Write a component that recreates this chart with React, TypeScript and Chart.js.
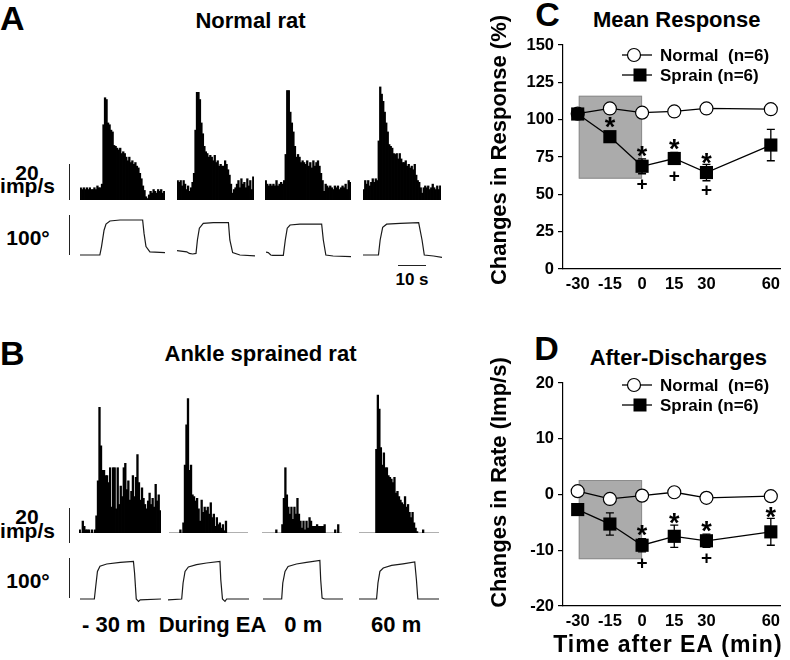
import React, { useEffect, useRef } from "react";
import { Chart, registerables } from "chart.js";
Chart.register(...registerables);

const FONT = "'Liberation Sans', Arial, Helvetica, sans-serif";

// ---------- Panel A: Normal rat – peristimulus histograms (imp/s per bin)
const histNormal1 = [7, 6, 7, 6, 7, 6, 7, 6, 6, 7, 6, 8, 7, 7, 9, 42, 57, 56, 43, 42, 39, 38, 30.5, 30, 29, 28, 29, 26, 27, 26, 24, 22, 24, 21, 22, 20, 21, 19, 18, 15, 12, 8, 5.5, 2, 1, 3, 5, 4, 6, 5, 4, 6, 5, 6, 4, 5];
const histNormal2 = [11, 10, 11, 8, 11, 9, 6, 8, 5, 7, 10, 15, 39, 60, 60, 56, 43, 37, 30, 27, 26, 24, 25, 24, 22, 25, 21, 22, 19, 20, 19, 19, 22, 20, 17, 14, 9, 4, 6, 7, 9, 11, 7, 12, 9, 10, 7, 12, 8, 11, 6, 13];
const histNormal3 = [11, 9, 8, 9, 8, 9, 8, 11, 8, 9, 10, 9, 11, 25.5, 61, 61, 49, 43, 38, 30, 24, 25.5, 24, 21, 22, 21, 20, 22, 19, 21, 18, 22, 19, 21, 22, 19, 15, 11, 5, 9, 8, 7, 8, 7, 6, 8, 7, 8, 6, 7, 8, 7, 9, 6, 11, 10];
const histNormal4 = [6, 11, 9, 11, 8, 10, 12, 10, 12, 11, 33, 63, 59, 55, 49, 43, 38, 31, 30, 29, 26, 25.5, 26, 23, 26, 23, 21, 21, 22, 19, 20, 18, 19, 17, 20, 14, 11, 10, 7, 4, 7, 8, 7, 8, 6, 7, 9, 7, 6, 8, 6, 8];

// ---------- Panel B: Ankle sprained rat – histograms (imp/s per bin)
const histSprain1 = [2, 0, 7, 4, 2, 2, 2, 0, 2, 0, 2, 10, 30, 72, 50, 36, 36, 33, 33, 29, 37.5, 15, 37.5, 37.5, 14, 37.5, 16.5, 27, 21, 37.5, 40, 25, 30, 19, 24, 33, 21, 32, 45, 29, 19, 26, 20, 16.5, 14, 18.5, 23, 16.5, 20, 15, 28, 18.5, 22, 13];
const histSprain2 = [0, 0, 0, 0, 0, 0, 0, 2, 0, 6, 39, 62, 77, 36, 39, 22, 21, 18.5, 20, 14, 7, 19, 12, 15, 13, 15, 11, 17.5, 9, 11, 4, 9, 5, 6, 3, 5, 1.5, 7, 0, 0, 0, 0, 0, 0, 0, 0, 0, 0, 0, 0, 0, 0];
const histSprain3 = [0, 0, 0, 0, 0, 0, 0, 0, 0, 2, 0, 0, 0, 5, 20, 37.5, 22, 15, 11, 15, 8, 15, 11, 20, 11, 7, 3, 7, 2, 7, 3, 9, 7, 4, 4, 4, 5, 4, 4, 4, 4, 5, 0, 0, 0, 0, 0, 0, 2, 0, 5, 0, 0];
const histSprain4 = [0, 0, 0, 0, 0, 0, 0, 0, 0, 0, 0, 48, 79, 71, 49, 39, 46, 37.5, 37.5, 33, 32, 31, 29, 32, 23, 24, 21, 19, 17.5, 16.5, 21, 15, 16.5, 12, 9, 12, 6, 3, 1, 0, 0, 0, 2, 0, 0, 0, 0, 0, 0, 0, 0, 0, 0];

// ---------- Joint angle traces: time (s) and angle (deg)
const traceA1T = [0, 7.1, 7.7, 8.6, 9.3, 10.7, 14.3, 22.4, 22.9, 23.6, 25, 30.4];
const traceA1D = [0, 0, 21, 62, 77.5, 85, 87.5, 87.5, 54, 21, 8, 6];
const traceA2T = [0, 3.5, 4.4, 5.6, 6.8, 7.3, 8, 9.4, 13, 18.4, 18.9, 19.9, 22.5, 27.9];
const traceA2D = [11, 8, 4, 2.5, 4, 37.5, 67, 79, 81, 81, 37.5, 6, 0, -2];
const traceA3T = [0, 0.8, 1.7, 2.4, 6.2, 6.9, 7.6, 8.6, 12.1, 19.9, 20.5, 21.4, 24, 30.4];
const traceA3D = [7, 6, 0, -1, -1, 37.5, 67, 75, 77, 77.5, 37.5, 0, -2.5, -4];
const traceA4T = [0, 5.5, 6.1, 7, 8.4, 13.2, 19.8, 21, 21.8, 25.1, 28.1];
const traceA4D = [0, 0, 37.5, 69, 77, 79, 81, 37.5, 0, -2.5, -6];
const traceB1T = [0, 5.1, 5.6, 6.2, 7.1, 9.5, 14.3, 19, 19.4, 20, 20.8, 21.4, 28.8];
const traceB1D = [0, 0, 32, 69, 82, 87.5, 91.5, 94, 65, 0, -6, -2, 0];
const traceB2T = [0, 4.9, 5.4, 6.1, 7.3, 10.2, 13.8, 18.6, 18.9, 19.5, 20.4, 21, 29.0];
const traceB2D = [-2, 0, 40, 69, 80, 86, 90, 94, 48, 0, -6, 0, 0];
const traceB3T = [0, 6.7, 7.1, 7.9, 9, 12, 15.6, 20.4, 20.7, 21.2, 22.1, 28.7];
const traceB3D = [0, 0, 40, 69, 81.5, 87.5, 91.5, 96.5, 48, 2.5, 0, 0];
const traceB4T = [0, 6.3, 6.8, 7.5, 8.7, 11.7, 15.8, 20, 20.6, 21.1, 28.7];
const traceB4D = [0, 0, 40, 69, 77.5, 84, 88, 92.5, 48, 0, 0];

const bLabels = ["- 30 m", "During EA", "0 m", "60 m"];

// ---------- Panels C / D
const timePoints = [-30, -15, 0, 15, 30, 60];
const xRange = [-36.85, 64.6];
const eaWindow = [-29.5, 0];

const respNormal = [104, 107.5, 104.7, 105.5, 107.5, 107];
const respSprain = [103.8, 88.6, 68.8, 74, 64.6, 83];
const respSprainErr = [2, 3, 5, 4, 5.5, 10.5];
const respStar = [false, true, true, true, true, false];
const respPlus = [false, false, true, true, true, false];
const respShade = [60.5, 116];

const rateNormal = [0.6, -0.8, -0.2, 0.4, -0.6, -0.3];
const rateSprain = [-2.7, -5.3, -9.1, -7.5, -8.3, -6.7];
const rateSprainErr = [0.8, 2, 1.2, 2, 1.2, 2.4];
const rateStar = [false, false, true, true, true, true];
const ratePlus = [false, false, true, false, true, false];
const rateShade = [-11.6, 2.6];

const seriesLabels = ["Normal  (n=6)", "Sprain (n=6)"];

// ---------- scales (px per unit)
const A_IMP_PX = 1.8;
const B_IMP_PX = 1.75;
const DEG_PX = 0.4;
const SEC_PX = 2.8;

function ChartCanvas({ left, top, width, height, make }: any) {
  const ref = useRef<HTMLCanvasElement>(null);
  useEffect(() => {
    const chart = new Chart(ref.current as HTMLCanvasElement, make());
    return () => chart.destroy();
  }, []);
  return (
    <canvas
      ref={ref}
      width={width}
      height={height}
      style={{ position: "absolute", left, top, width, height }}
    />
  );
}

const baselinePlugin = {
  id: "baseline",
  beforeDatasetsDraw(chart: any) {
    const { ctx, chartArea } = chart;
    const y = chart.scales.y.getPixelForValue(0);
    ctx.save();
    ctx.strokeStyle = "#b0b0b0";
    ctx.lineWidth = 1;
    ctx.beginPath();
    ctx.moveTo(chartArea.left, y - 0.5);
    ctx.lineTo(chartArea.right, y - 0.5);
    ctx.stroke();
    ctx.restore();
  },
};

function histConfig(values: number[], max: number, baseline: boolean, width: number) {
  return {
    type: "bar",
    data: {
      labels: values.map((_, i) => String(i)),
      datasets: [
        {
          data: values,
          backgroundColor: "#000",
          borderWidth: 0,
          barThickness: width / values.length + 0.8,
          inflateAmount: 0,
        },
      ],
    },
    options: {
      responsive: false,
      animation: false,
      events: [],
      layout: { padding: 0 },
      plugins: { legend: { display: false }, tooltip: { enabled: false } },
      scales: {
        x: { display: false },
        y: { display: false, min: 0, max },
      },
    },
    plugins: baseline ? [baselinePlugin] : [],
  };
}

function traceConfig(t: number[], d: number[]) {
  return {
    type: "line",
    data: {
      datasets: [
        {
          data: t.map((x, i) => ({ x, y: d[i] })),
          borderColor: "#1a1a1a",
          borderWidth: 1.2,
          pointRadius: 0,
          tension: 0,
        },
      ],
    },
    options: {
      responsive: false,
      animation: false,
      events: [],
      layout: { padding: 0 },
      plugins: { legend: { display: false }, tooltip: { enabled: false } },
      scales: {
        x: { type: "linear", display: false, min: t[0], max: t[t.length - 1] },
        y: { display: false, min: -10, max: 100 },
      },
    },
  };
}

function mainConfig(p: any) {
  const xy = (arr: number[]) => timePoints.map((t, i) => ({ x: t, y: arr[i] }));
  const shade = {
    id: "shade",
    beforeDatasetsDraw(chart: any) {
      const { ctx } = chart;
      const { x, y } = chart.scales;
      const x0 = x.getPixelForValue(eaWindow[0]);
      const x1 = x.getPixelForValue(eaWindow[1]);
      const y0 = y.getPixelForValue(p.shade[1]);
      const y1 = y.getPixelForValue(p.shade[0]);
      ctx.save();
      ctx.fillStyle = "#ababab";
      ctx.fillRect(x0, y0, x1 - x0, y1 - y0);
      ctx.strokeStyle = "#8c8c8c";
      ctx.lineWidth = 1;
      ctx.strokeRect(x0 + 0.5, y0 + 0.5, x1 - x0 - 1, y1 - y0 - 1);
      ctx.restore();
    },
  };
  const errorBars = {
    id: "errorBars",
    beforeDatasetsDraw(chart: any) {
      const { ctx } = chart;
      const { x, y } = chart.scales;
      ctx.save();
      ctx.strokeStyle = "#000";
      ctx.lineWidth = 1.3;
      timePoints.forEach((t, i) => {
        const px = x.getPixelForValue(t);
        const top = y.getPixelForValue(p.sprain[i] + p.err[i]);
        const bot = y.getPixelForValue(p.sprain[i] - p.err[i]);
        ctx.beginPath();
        ctx.moveTo(px, top);
        ctx.lineTo(px, bot);
        ctx.moveTo(px - 4, top);
        ctx.lineTo(px + 4, top);
        ctx.moveTo(px - 4, bot);
        ctx.lineTo(px + 4, bot);
        ctx.stroke();
      });
      ctx.restore();
    },
  };
  const marks = {
    id: "marks",
    afterDatasetsDraw(chart: any) {
      const { ctx } = chart;
      const { x, y } = chart.scales;
      ctx.save();
      ctx.fillStyle = "#000";
      ctx.textAlign = "center";
      ctx.textBaseline = "alphabetic";
      timePoints.forEach((t, i) => {
        const px = x.getPixelForValue(t);
        const cy = y.getPixelForValue(p.sprain[i]);
        const top = y.getPixelForValue(p.sprain[i] + p.err[i]);
        const bot = y.getPixelForValue(p.sprain[i] - p.err[i]);
        if (p.star[i]) {
          const sy = Math.min(cy - 17, top - 9);
          ctx.font = `bold 27px ${FONT}`;
          ctx.fillText("*", px, sy + 0.6 * 27);
        }
        if (p.plus[i]) {
          const py = Math.max(cy + 17, bot + 9);
          ctx.font = `bold 19px ${FONT}`;
          ctx.fillText("+", px, py + 0.33 * 19);
        }
      });
      ctx.restore();
    },
  };
  const legendDraw = {
    id: "legendDraw",
    afterDraw(chart: any) {
      const { ctx, chartArea } = chart;
      const l = chartArea.left;
      ctx.save();
      chart.data.datasets.forEach((ds: any, i: number) => {
        const ry = chartArea.top + p.legendTop + i * 20;
        ctx.strokeStyle = "#000";
        ctx.lineWidth = 1.3;
        ctx.beginPath();
        ctx.moveTo(l + 59, ry);
        ctx.lineTo(l + 89, ry);
        ctx.stroke();
        if (i === 0) {
          ctx.beginPath();
          ctx.arc(l + 71, ry, 6.5, 0, Math.PI * 2);
          ctx.fillStyle = "#fff";
          ctx.fill();
          ctx.lineWidth = 1.2;
          ctx.stroke();
        } else {
          ctx.fillStyle = "#000";
          ctx.fillRect(l + 77 - 6.5, ry - 6.5, 13, 13);
        }
        ctx.fillStyle = "#000";
        ctx.font = `bold 17px ${FONT}`;
        ctx.textAlign = "left";
        ctx.textBaseline = "middle";
        ctx.fillText(ds.label, l + 97, ry + 1);
      });
      ctx.restore();
    },
  };
  const titles = {
    id: "titles",
    afterDraw(chart: any) {
      const { ctx, chartArea } = chart;
      ctx.save();
      ctx.fillStyle = "#000";
      ctx.font = `bold 22px ${FONT}`;
      ctx.textAlign = "center";
      ctx.textBaseline = "middle";
      ctx.translate(chartArea.left - 63, (chartArea.top + chartArea.bottom) / 2 + p.yTitleDy);
      ctx.rotate(-Math.PI / 2);
      ctx.fillText(p.yTitle, 0, 0);
      ctx.restore();
      if (p.xTitle) {
        ctx.save();
        ctx.fillStyle = "#000";
        ctx.font = `bold 23px ${FONT}`;
        try {
          (ctx as any).letterSpacing = "1px";
        } catch (e) {}
        ctx.textAlign = "center";
        ctx.textBaseline = "middle";
        ctx.fillText(p.xTitle, (chartArea.left + chartArea.right) / 2 - 4, chartArea.bottom + 40);
        ctx.restore();
      }
    },
  };
  const tickFont = { family: FONT, size: 16.5, weight: "bold" };
  return {
    type: "line",
    data: {
      datasets: [
        {
          label: seriesLabels[0],
          data: xy(p.normal),
          borderColor: "#000",
          borderWidth: 1.3,
          pointStyle: "circle",
          pointRadius: 6.5,
          pointBackgroundColor: "#fff",
          pointBorderColor: "#000",
          pointBorderWidth: 1.2,
          tension: 0,
          order: 2,
          clip: false,
        },
        {
          label: seriesLabels[1],
          data: xy(p.sprain),
          borderColor: "#000",
          borderWidth: 1.3,
          pointStyle: "rect",
          pointRadius: 9.3,
          pointBackgroundColor: "#000",
          pointBorderColor: "#000",
          pointBorderWidth: 0,
          tension: 0,
          order: 1,
          clip: false,
        },
      ],
    },
    options: {
      responsive: false,
      animation: false,
      events: [],
      layout: { padding: { top: p.padTop, right: 5, left: 0, bottom: 0 } },
      plugins: { legend: { display: false }, tooltip: { enabled: false } },
      scales: {
        x: {
          type: "linear",
          min: xRange[0],
          max: xRange[1],
          afterBuildTicks: (s: any) => {
            s.ticks = timePoints.map((v) => ({ value: v }));
          },
          afterFit: (s: any) => {
            s.height = p.xAxisH;
          },
          grid: { display: true, drawOnChartArea: false, drawTicks: false },
          border: { color: "#000", width: 1.2 },
          ticks: { color: "#000", font: tickFont, padding: 6, maxRotation: 0, autoSkip: false },
        },
        y: {
          min: p.yMin,
          max: p.yMax,
          afterFit: (s: any) => {
            s.width = 83;
          },
          grid: { drawOnChartArea: false, drawTicks: true, tickLength: 5, color: "#000", lineWidth: 1.2 },
          border: { color: "#000", width: 1.2 },
          ticks: { color: "#000", font: tickFont, padding: 4, stepSize: p.yStep },
        },
      },
    },
    plugins: [shade, errorBars, marks, legendDraw, titles],
  };
}

function Label({ x, y, text, size = 22, center = true }: any) {
  return (
    <div
      style={{
        position: "absolute",
        left: x,
        top: y - size / 2,
        fontFamily: FONT,
        fontWeight: "bold",
        fontSize: size,
        lineHeight: `${size}px`,
        whiteSpace: "pre",
        transform: center ? "translateX(-50%)" : undefined,
        color: "#000",
      }}
    >
      {text}
    </div>
  );
}

function Bar({ left, top, width, height }: any) {
  return <div style={{ position: "absolute", left, top, width, height, background: "#222" }} />;
}

const colsA = [
  { hist: histNormal1, hl: 80, hw: 85, t: traceA1T, d: traceA1D, tl: 80, tw: 85 },
  { hist: histNormal2, hl: 177, hw: 77, t: traceA2T, d: traceA2D, tl: 177, tw: 78 },
  { hist: histNormal3, hl: 265, hw: 86, t: traceA3T, d: traceA3D, tl: 266, tw: 85 },
  { hist: histNormal4, hl: 363, hw: 78, t: traceA4T, d: traceA4D, tl: 363, tw: 79 },
];
const colsB = [
  { hist: histSprain1, hl: 79, hw: 82, t: traceB1T, d: traceB1D, tl: 80, tw: 81 },
  { hist: histSprain2, hl: 169, hw: 79, t: traceB2T, d: traceB2D, tl: 168, tw: 81 },
  { hist: histSprain3, hl: 262, hw: 80, t: traceB3T, d: traceB3D, tl: 263, tw: 80 },
  { hist: histSprain4, hl: 359, hw: 80, t: traceB4T, d: traceB4D, tl: 359, tw: 80 },
];
const bLabelX = [113.8, 212.5, 303.3, 396.2];

export default function App() {
  const A_MAX = 65;
  const B_MAX = 80;
  const aBase = 200;
  const bBase = 533;
  const aTraceBase = 255;
  const bTraceBase = 599;
  return (
    <div
      style={{
        position: "absolute",
        left: 0,
        top: 0,
        width: 790,
        height: 660,
        background: "#fff",
        overflow: "hidden",
      }}
    >
      {/* Panel A */}
      <Label x={0} y={18.3} text="A" size={34} center={false} />
      <Label x={250.5} y={20.7} text="Normal rat" />
      <Label x={27} y={172.5} text="20" size={21} />
      <Label x={27.5} y={185.8} text="imp/s" size={21} />
      <Label x={28} y={237.5} text="100°" size={21} />
      <Bar left={68.5} top={aBase - 20 * A_IMP_PX} width={1.4} height={20 * A_IMP_PX} />
      <Bar left={68.5} top={aTraceBase - 100 * DEG_PX} width={1.4} height={100 * DEG_PX} />
      <Bar left={398} top={264.5} width={10 * SEC_PX} height={1.4} />
      <Label x={412} y={279} text="10 s" size={17} />
      {colsA.map((c, i) => (
        <React.Fragment key={"a" + i}>
          <ChartCanvas
            left={c.hl}
            top={aBase - A_MAX * A_IMP_PX}
            width={c.hw}
            height={A_MAX * A_IMP_PX}
            make={() => histConfig(c.hist, A_MAX, false, c.hw)}
          />
          <ChartCanvas
            left={c.tl}
            top={aTraceBase - 100 * DEG_PX}
            width={c.tw}
            height={110 * DEG_PX}
            make={() => traceConfig(c.t, c.d)}
          />
        </React.Fragment>
      ))}

      {/* Panel B */}
      <Label x={0} y={352.5} text="B" size={34} center={false} />
      <Label x={260.5} y={354} text="Ankle sprained rat" />
      <Label x={27} y={516} text="20" size={21} />
      <Label x={27.5} y={530.5} text="imp/s" size={21} />
      <Label x={28} y={580} text="100°" size={21} />
      <Bar left={68.5} top={508} width={1.4} height={20 * B_IMP_PX} />
      <Bar left={68.5} top={bTraceBase - 1 - 100 * DEG_PX} width={1.4} height={100 * DEG_PX} />
      {colsB.map((c, i) => (
        <React.Fragment key={"b" + i}>
          <ChartCanvas
            left={c.hl}
            top={bBase - B_MAX * B_IMP_PX}
            width={c.hw}
            height={B_MAX * B_IMP_PX}
            make={() => histConfig(c.hist, B_MAX, true, c.hw)}
          />
          <ChartCanvas
            left={c.tl}
            top={bTraceBase - 100 * DEG_PX}
            width={c.tw}
            height={110 * DEG_PX}
            make={() => traceConfig(c.t, c.d)}
          />
        </React.Fragment>
      ))}
      {bLabels.map((t, i) => (
        <Label key={t} x={bLabelX[i]} y={624.7} text={t} />
      ))}

      {/* Panel C */}
      <Label x={547.5} y={14.3} text="C" size={34} />
      <Label x={676.7} y={20.3} text="Mean Response" />
      <ChartCanvas
        left={480}
        top={0}
        width={310}
        height={300}
        make={() =>
          mainConfig({
            normal: respNormal,
            sprain: respSprain,
            err: respSprainErr,
            star: respStar,
            plus: respPlus,
            shade: respShade,
            yMin: 0,
            yMax: 150,
            yStep: 25,
            yTitle: "Changes in Response (%)",
            yTitleDy: -7,
            legendTop: 10,
            padTop: 45,
            xAxisH: 31,
          })
        }
      />

      {/* Panel D */}
      <Label x={546.5} y={348.3} text="D" size={34} />
      <Label x={678.3} y={358.3} text="After-Discharges" />
      <ChartCanvas
        left={480}
        top={320}
        width={310}
        height={340}
        make={() =>
          mainConfig({
            normal: rateNormal,
            sprain: rateSprain,
            err: rateSprainErr,
            star: rateStar,
            plus: ratePlus,
            shade: rateShade,
            yMin: -20,
            yMax: 20,
            yStep: 10,
            yTitle: "Changes in Rate (Imp/s)",
            yTitleDy: -12,
            xTitle: "Time after EA (min)",
            legendTop: 2,
            padTop: 63,
            xAxisH: 54,
          })
        }
      />
    </div>
  );
}
